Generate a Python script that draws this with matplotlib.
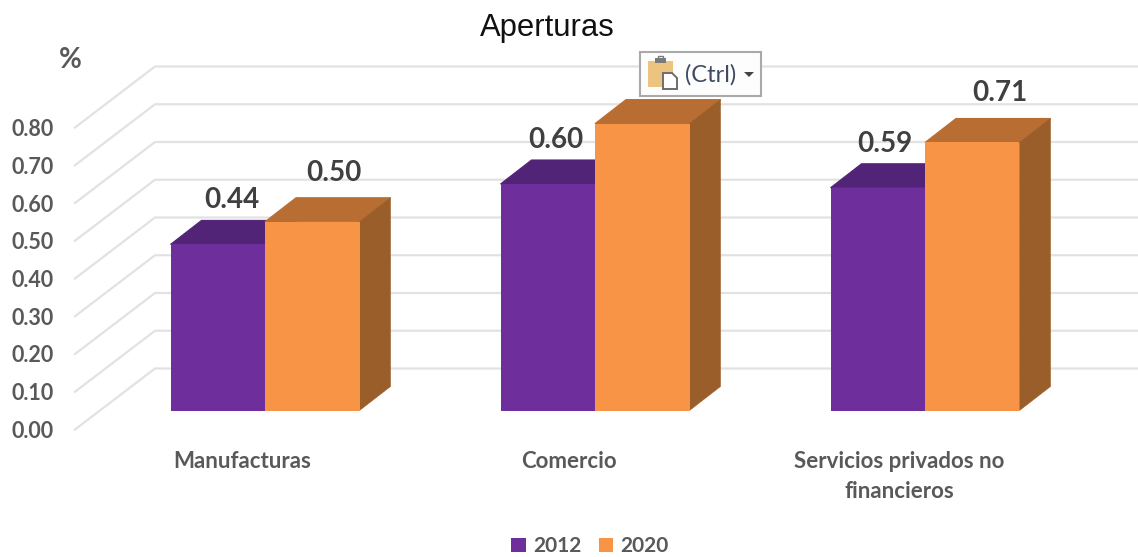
#!/usr/bin/env python
"""Aperturas: 3D-looking clustered bars, 2012 vs 2020."""

import matplotlib

matplotlib.use("Agg")
import matplotlib.pyplot as plt
from matplotlib.patches import Patch, Polygon, Rectangle
import numpy as np

CATEGORIES = ["Manufacturas", "Comercio", "Servicios privados no\nfinancieros"]
YEARS = ["2012", "2020"]
VALUES_2012 = [0.44, 0.60, 0.59]
VALUES_2020 = [0.50, 0.76, 0.71]
LABELS_2012 = ["0.44", "0.60", "0.59"]
# the Comercio 2020 label is covered by the paste popup in the screenshot
LABELS_2020 = ["0.50", None, "0.71"]
Y_TICKS = [0.0, 0.1, 0.2, 0.3, 0.4, 0.5, 0.6, 0.7, 0.8]

WIDTH, HEIGHT = 1138, 557
# pixel layout of the fake 3D plane
X_UNIT = 330.0
Y_UNIT = 377.5
X_ZERO = 265.0
Y_ZERO = 410.5
BAR_W = 94.5 / X_UNIT
DEPTH_X = 31 / X_UNIT
DEPTH_Y = 24 / Y_UNIT

COLORS = {
    "2012": {"front": "#6E2E9B", "top": "#522477", "side": "#522477"},
    "2020": {"front": "#F79445", "top": "#B86E33", "side": "#9A5E2B"},
}
TEXT_GREY = "#595959"
LABEL_GREY = "#404040"
GRID = "#E2E2E2"

# hand placed data labels, px offset from the bar centre / bar top
LABEL_DX = {"2012": [14, 8, 7], "2020": [22, 0, 28]}
LABEL_DY = {"2012": [44, 44, 44], "2020": [49, 0, 49]}


def draw_walls(ax):
    left_back = (155 - X_ZERO) / X_UNIT
    left_front = (75 - X_ZERO) / X_UNIT
    right = (WIDTH - X_ZERO) / X_UNIT
    back_dy = 42 / Y_UNIT
    front_dy = -19 / Y_UNIT
    label_dy = -21 / Y_UNIT
    for tick in Y_TICKS:
        ax.plot(
            [left_front, left_back, right],
            [tick + front_dy, tick + back_dy, tick + back_dy],
            color=GRID, lw=1.6, zorder=1, solid_joinstyle="miter",
        )
        ax.text(
            (54 - X_ZERO) / X_UNIT, tick + label_dy, f"{tick:.2f}",
            ha="right", va="center", fontsize=15.5, fontweight="bold", color=TEXT_GREY,
        )


def draw_bar(ax, x, value, year):
    style = COLORS[year]
    ax.bar(x, value, width=BAR_W, align="edge", color=style["front"], lw=0, zorder=4)
    top = [
        (x, value),
        (x + DEPTH_X, value + DEPTH_Y),
        (x + BAR_W + DEPTH_X, value + DEPTH_Y),
        (x + BAR_W, value),
    ]
    side = [
        (x + BAR_W, 0),
        (x + BAR_W + DEPTH_X, DEPTH_Y),
        (x + BAR_W + DEPTH_X, value + DEPTH_Y),
        (x + BAR_W, value),
    ]
    # thin same-colour edge, otherwise the purple shows through the seams
    ax.add_patch(Polygon(top, closed=True, fc=style["top"], ec=style["top"], lw=0.8, zorder=3))
    ax.add_patch(Polygon(side, closed=True, fc=style["side"], ec=style["side"], lw=0.4, zorder=3))


def draw_paste_popup(fig):
    over = fig.add_axes([0, 0, 1, 1], facecolor="none")
    over.set_xlim(0, WIDTH)
    over.set_ylim(HEIGHT, 0)
    over.set_axis_off()
    over.add_patch(Rectangle((640.5, 52), 121, 44, fc="#FDFDFD", ec="#A9A9A9", lw=1.5))
    over.add_patch(Rectangle((648, 61), 25, 26, fc="#EDC47F", lw=0))
    over.add_patch(Rectangle((655, 58), 11, 5, fc="#7A7A7A", lw=0))
    over.add_patch(Rectangle((658, 56), 5, 3, fc="none", ec="#7A7A7A", lw=1))
    over.add_patch(
        Polygon(
            [(663, 73), (672, 73), (677, 78), (677, 89), (663, 89)],
            closed=True, fc="white", ec="#6E6E6E", lw=1.4,
        )
    )
    over.text(711, 74.5, "(Ctrl)", ha="center", va="center", fontsize=17,
              color="#3F4A63", family="Lato")
    over.add_patch(Polygon([(744, 72), (754, 72), (749, 77)], closed=True, fc="#444444", lw=0))


def main():
    plt.rcParams["font.family"] = ["Lato", "DejaVu Sans"]
    fig = plt.figure(figsize=(WIDTH / 100, HEIGHT / 100), dpi=100, facecolor="white")
    ax = fig.add_axes([0, 0, 1, 1])
    ax.set_xlim(-X_ZERO / X_UNIT, (WIDTH - X_ZERO) / X_UNIT)
    ax.set_ylim((Y_ZERO - HEIGHT) / Y_UNIT, Y_ZERO / Y_UNIT)
    ax.set_axis_off()

    draw_walls(ax)

    x_centres = np.arange(len(CATEGORIES))
    series = {"2012": (VALUES_2012, LABELS_2012), "2020": (VALUES_2020, LABELS_2020)}
    for offset, year in zip((-BAR_W, 0.0), YEARS):
        values, labels = series[year]
        for i, (centre, value, label) in enumerate(zip(x_centres, values, labels)):
            x = centre + offset
            draw_bar(ax, x, value, year)
            if label is None:
                continue
            ax.text(
                x + BAR_W / 2 + LABEL_DX[year][i] / X_UNIT,
                value + LABEL_DY[year][i] / Y_UNIT,
                label, ha="center", va="center", fontsize=20, fontweight="bold",
                color=LABEL_GREY, zorder=5,
            )

    for centre, name, shift in zip(x_centres, CATEGORIES, (-23, -26, -26)):
        ax.text(
            centre + shift / X_UNIT, -41 / Y_UNIT, name, ha="center", va="top",
            fontsize=16, fontweight="bold", color=TEXT_GREY, linespacing=1.5,
        )

    ax.text(
        (547 - X_ZERO) / X_UNIT, (Y_ZERO - 28) / Y_UNIT, "Aperturas", ha="center",
        va="center", fontsize=22.3, color="#111111", family=["Liberation Sans"],
    )
    ax.text(
        (70 - X_ZERO) / X_UNIT, (Y_ZERO - 60) / Y_UNIT, "%", ha="center", va="center",
        fontsize=20, fontweight="bold", color=TEXT_GREY,
    )

    handles = [Patch(fc=COLORS[year]["front"], lw=0) for year in YEARS]
    fig.legend(
        handles, YEARS, loc="center", bbox_to_anchor=(590 / WIDTH, 1 - 546 / HEIGHT),
        ncol=2, frameon=False, labelcolor=TEXT_GREY, handlelength=0.68,
        handleheight=0.68, handletextpad=0.35, columnspacing=0.85,
        prop={"weight": "bold", "size": 15},
    )

    draw_paste_popup(fig)
    fig.savefig("out.png", dpi=100)
    plt.close(fig)


if __name__ == "__main__":
    main()
